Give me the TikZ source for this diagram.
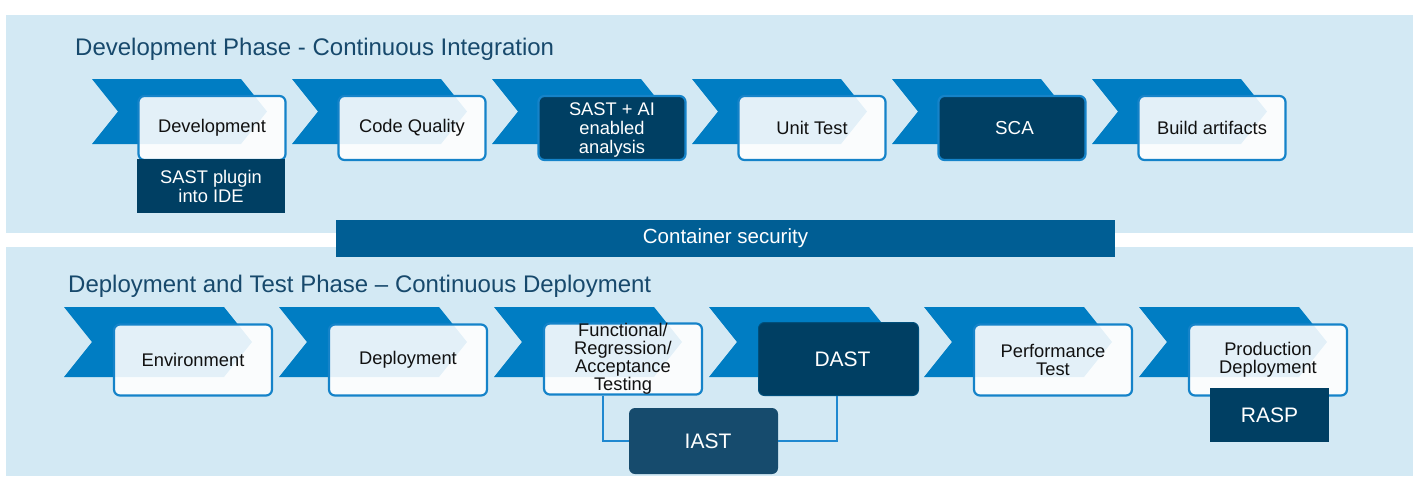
\documentclass[tikz,border=0pt]{standalone}
\usepackage{fontspec}
\setmainfont{Liberation Sans}
\definecolor{panel}{HTML}{D3E9F4}
\definecolor{chevc}{HTML}{007DC3}
\definecolor{navy}{HTML}{003F63}
\definecolor{iastc}{HTML}{164B6D}
\definecolor{barc}{HTML}{005E94}
\definecolor{connc}{HTML}{1F88D0}
\definecolor{titlec}{HTML}{17496C}
\definecolor{boxborder}{HTML}{1583C9}
\definecolor{boxtext}{HTML}{111111}
\newcommand{\chevronshape}[5]{% left top W h d
  \fill[chevfill] (#1,#2) -- ++(#3-#5,0) -- ++(#5,#4/2) -- ++(-#5,#4/2) -- ++(-#3+#5,0) -- ++(#5,-#4/2) -- cycle;}
\tikzset{
  chevfill/.style={fill=chevc},
  basebox/.style={inner sep=0pt, align=center, rounded corners=6pt},
  lightbox/.style={basebox, draw=boxborder, line width=2.2pt, fill=white, fill opacity=0.89, text opacity=1,
     text=boxtext, font=\fontsize{18.3}{19}\selectfont},
  darkbox/.style={basebox, draw=boxborder, line width=2.2pt, fill=navy, text=white, font=\fontsize{18.3}{19}\selectfont},
  topsize/.style={minimum width=147pt, minimum height=64pt},
  botsize/.style={minimum width=158pt, minimum height=71pt},
  squarenavy/.style={fill=navy, text=white, inner sep=0pt, align=center},
  iastbox/.style={basebox, fill=iastc, text=white, minimum width=149pt, minimum height=66pt, font=\fontsize{21}{22}\selectfont},
  conline/.style={draw=connc, line width=1.5pt},
  phasetitle/.style={text=titlec, inner sep=0pt, font=\fontsize{24}{26}\selectfont},
}
\begin{document}
\begin{tikzpicture}[x=1pt,y=-1pt]
\fill[white] (0,0) rectangle (1418,477);
\useasboundingbox (0,0) rectangle (1418,477);
% panels
\fill[panel] (6,15) rectangle (1413,233);
\fill[panel] (6,247) rectangle (1413,476);
% container bar
\node[fill=barc, text=white, minimum width=779pt, minimum height=37pt, inner sep=0pt,
      font=\fontsize{20.5}{22}\selectfont] (bar) at (725.5,238.5) {Container security};
% titles
\node[phasetitle, anchor=base west] (t1) at (75,55) {Development Phase - Continuous Integration};
\node[phasetitle, anchor=base west] (t2) at (68,292) {Deployment and Test Phase – Continuous Deployment};
% top chevrons
\foreach \i in {0,...,5} {\chevronshape{92+200*\i}{79}{175}{65}{26}}
% bottom chevrons
\foreach \i in {0,...,5} {\chevronshape{64+215*\i}{307}{188}{70}{28}}
% top boxes
\node[lightbox, topsize] (dev) at (212,128) {Development};
\node[lightbox, topsize] (cq) at (412,128) {Code Quality};
\node[darkbox, topsize, text depth=-2pt] (sast) at (612,128) {SAST + AI\\enabled\\analysis};
\node[lightbox, topsize] (ut) at (812,128) {Unit Test};
\node[darkbox, topsize, font=\fontsize{18.8}{19}\selectfont] (sca) at (1012,128) {\raisebox{-2pt}{\hspace*{5pt}SCA}};
\node[lightbox, topsize] (ba) at (1212,128) {Build artifacts};
\node[squarenavy, minimum width=148pt, minimum height=54pt, font=\fontsize{18.3}{19}\selectfont] (ide) at (211,186) {SAST plugin\\into IDE};
% bottom boxes
\node[lightbox, botsize] (env) at (193,360) {Environment};
\node[lightbox, botsize, font=\fontsize{18.3}{18}\selectfont] (dep) at (408,360) {Deployment};
\node[lightbox, botsize, font=\fontsize{18.3}{18}\selectfont] (func) at (623,359) {Functional/\\Regression/\\Acceptance\\Testing};
\node[basebox, fill=navy, draw=navy!75!chevc, line width=1pt, text=white, minimum width=160pt, minimum height=73pt,
      font=\fontsize{21}{22}\selectfont] (dast) at (838.5,359) {\hspace*{8pt}DAST};
\node[lightbox, botsize, font=\fontsize{18.3}{18}\selectfont] (perf) at (1053,360) {Performance\\Test};
\node[lightbox, botsize, font=\fontsize{18.3}{18}\selectfont] (prod) at (1268,360) {Production\\Deployment};
% connectors to IAST
\node[iastbox] (iast) at (703.5,441) {\hspace*{9pt}IAST};
\draw[conline] ([xshift=-20pt]func.south) |- (iast.west);
\draw[conline] (iast.east) -| ([xshift=-1.5pt]dast.south);
\node[squarenavy, minimum width=119pt, minimum height=54pt, font=\fontsize{21}{22}\selectfont] (rasp) at (1269.5,415) {RASP};
\end{tikzpicture}
\end{document}
